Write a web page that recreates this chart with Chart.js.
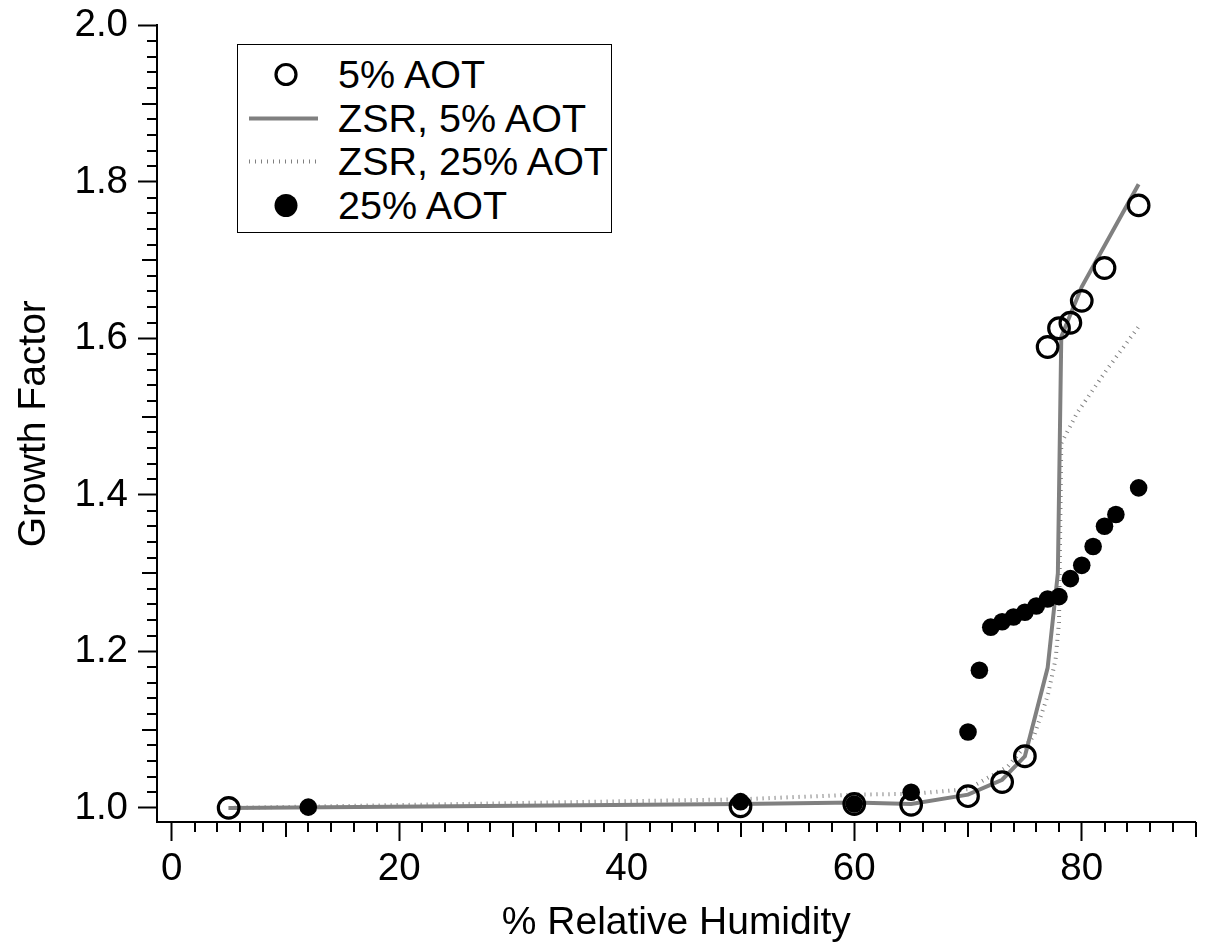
<!DOCTYPE html>
<html>
<head>
<meta charset="utf-8">
<title>Growth Factor vs Relative Humidity</title>
<script src="https://cdn.jsdelivr.net/npm/chart.js@4"></script>
<style>
html, body { margin: 0; padding: 0; background: #fff; }
#wrap { position: relative; width: 1209px; height: 947px; }
#legend {
	position: absolute; left: 237px; top: 44px; width: 375px; height: 189px;
	border: 1.5px solid #000; background: #fff; box-sizing: border-box;
	font-family: "Liberation Sans", Arial, sans-serif; font-size: 39.5px; color: #000;
	padding-top: 8px;
}
#legend .row { height: 43.5px; line-height: 43.5px; position: relative; white-space: nowrap; }
#legend svg { position: absolute; left: 10px; top: 0; }
#legend span { position: absolute; left: 100px; top: 0; }
</style>
</head>
<body>
<div id="wrap">
	<canvas id="canvas1" width="1209" height="947"></canvas>
	<div id="legend">
		<div class="row"><svg width="72" height="43"><circle cx="38" cy="21.5" r="10" fill="none" stroke="#000" stroke-width="3.2"/></svg><span>5% AOT</span></div>
		<div class="row"><svg width="72" height="43"><line x1="1" y1="21.5" x2="70" y2="21.5" stroke="#808080" stroke-width="4"/></svg><span>ZSR, 5% AOT</span></div>
		<div class="row"><svg width="72" height="43"><line x1="1" y1="21.5" x2="70" y2="21.5" stroke="#808080" stroke-width="4" stroke-dasharray="1 5"/></svg><span>ZSR, 25% AOT</span></div>
		<div class="row"><svg width="72" height="43"><circle cx="38" cy="21.5" r="11.5" fill="#000"/></svg><span>25% AOT</span></div>
	</div>
</div>
<script>
// measured growth factors, 5% AOT
var rh5 = [5, 50, 60, 65, 70, 73, 75, 77, 78, 79, 80, 82, 85];
var gf5 = [1.000, 1.002, 1.005, 1.004, 1.015, 1.033, 1.066, 1.589, 1.613, 1.620, 1.648, 1.690, 1.770];
// measured growth factors, 25% AOT
var rh25 = [12, 50, 60, 65, 70, 71, 72, 73, 74, 75, 76, 77, 78, 79, 80, 81, 82, 83, 85];
var gf25 = [1.001, 1.008, 1.005, 1.020, 1.097, 1.176, 1.231, 1.238, 1.244, 1.250, 1.258, 1.267, 1.270, 1.293, 1.310, 1.334, 1.360, 1.375, 1.409];
// ZSR predictions
var zsrRh5 = [5, 50, 60, 65, 70, 73, 75, 77, 77.9, 78.2, 80, 85];
var zsrGf5 = [1.000, 1.005, 1.007, 1.005, 1.017, 1.036, 1.066, 1.179, 1.300, 1.602, 1.666, 1.797];
var zsrRh25 = [5, 50, 60, 65, 70, 73.5, 75.8, 77, 77.7, 78, 78.2, 79.6, 82.2, 85];
var zsrGf25 = [1.000, 1.011, 1.017, 1.018, 1.024, 1.053, 1.092, 1.143, 1.190, 1.237, 1.466, 1.505, 1.560, 1.615];
// labelled ticks
var xTickVals = [0, 20, 40, 60, 80];
var yTickVals = [1.0, 1.2, 1.4, 1.6, 1.8, 2.0];

var FONT = '"Liberation Sans", Arial, sans-serif';

function toPoints(xs, ys){
	var pts = [];
	for (var i = 0; i < xs.length; i++) {
		pts.push({x: xs[i], y: ys[i]});
	}
	return pts;
}

/**
 * small and medium tick marks between the labelled ones
 */
var minorTicks = {
	id: 'minorTicks',
	afterDraw: function(chart){
		var ctx = chart.ctx, xs = chart.scales.x, ys = chart.scales.y;
		ctx.save();
		ctx.strokeStyle = '#000';
		ctx.lineWidth = 2;
		ctx.beginPath();
		for (var i = 0; i <= 45; i++) {
			var v = i * 2;
			if (v % 20 === 0) continue;
			var len = (v % 10 === 0) ? 15 : 10;
			var p = Math.round(xs.getPixelForValue(v));
			ctx.moveTo(p, xs.top);
			ctx.lineTo(p, xs.top + len);
		}
		for (var k = 0; k <= 50; k++) {
			if (k % 10 === 0) continue;
			var len2 = (k % 5 === 0) ? 15 : 10;
			var q = Math.round(ys.getPixelForValue(1 + k * 0.02));
			ctx.moveTo(ys.right, q);
			ctx.lineTo(ys.right - len2, q);
		}
		ctx.stroke();
		ctx.restore();
	}
};

var config = {
	type: 'scatter',
	data: {
		datasets: [{
			label: '25% AOT',
			data: toPoints(rh25, gf25),
			pointRadius: 8.8,
			pointBackgroundColor: '#000',
			pointBorderWidth: 0,
			showLine: false
		}, {
			label: '5% AOT',
			data: toPoints(rh5, gf5),
			pointRadius: 10.3,
			pointBorderWidth: 3.2,
			pointBorderColor: '#000',
			pointBackgroundColor: 'rgba(0,0,0,0)',
			showLine: false
		}, {
			label: 'ZSR, 25% AOT',
			data: toPoints(zsrRh25, zsrGf25),
			showLine: true,
			pointRadius: 0,
			borderColor: '#808080',
			borderWidth: 4,
			borderDash: [1, 5],
			tension: 0,
			fill: false
		}, {
			label: 'ZSR, 5% AOT',
			data: toPoints(zsrRh5, zsrGf5),
			showLine: true,
			pointRadius: 0,
			borderColor: '#808080',
			borderWidth: 4,
			tension: 0,
			fill: false
		}]
	},
	options: {
		responsive: false,
		animation: false,
		layout: { padding: { top: 25, right: 11, left: 0, bottom: 0 } },
		plugins: { legend: { display: false }, tooltip: { enabled: false } },
		scales: {
			x: {
				type: 'linear',
				min: -1.3,
				max: 90,
				afterBuildTicks: function(s){ s.ticks = xTickVals.map(function(v){ return {value: v}; }); },
				afterFit: function(s){ s.height = 125; },
				grid: { drawOnChartArea: false, tickLength: 19, tickColor: '#000', tickWidth: 2 },
				border: { color: '#000', width: 2 },
				ticks: {
					color: '#000', padding: 13, maxRotation: 0, autoSkip: false,
					font: { size: 38.5, family: FONT, lineHeight: 0.8 },
					callback: function(v){ return String(v); }
				},
				title: {
					display: true, text: '% Relative Humidity', color: '#000',
					font: { size: 39, family: FONT }, padding: { top: 0, bottom: 0 }
				}
			},
			y: {
				type: 'linear',
				min: 0.982,
				max: 2.0,
				afterBuildTicks: function(s){ s.ticks = yTickVals.map(function(v){ return {value: v}; }); },
				afterFit: function(s){ s.width = 157; },
				grid: { drawOnChartArea: false, tickLength: 19, tickColor: '#000', tickWidth: 2 },
				border: { color: '#000', width: 2 },
				ticks: {
					color: '#000', padding: 10, autoSkip: false,
					font: { size: 38.5, family: FONT, lineHeight: 0.8 },
					callback: function(v){ return Number(v).toFixed(1); }
				},
				title: {
					display: true, text: 'Growth Factor', color: '#000',
					font: { size: 39, family: FONT }, padding: { top: 11, bottom: 0 }
				}
			}
		}
	},
	plugins: [minorTicks]
};

var ctx1 = document.getElementById("canvas1").getContext("2d");
window.myChart = new Chart(ctx1, config);
</script>
</body>
</html>
